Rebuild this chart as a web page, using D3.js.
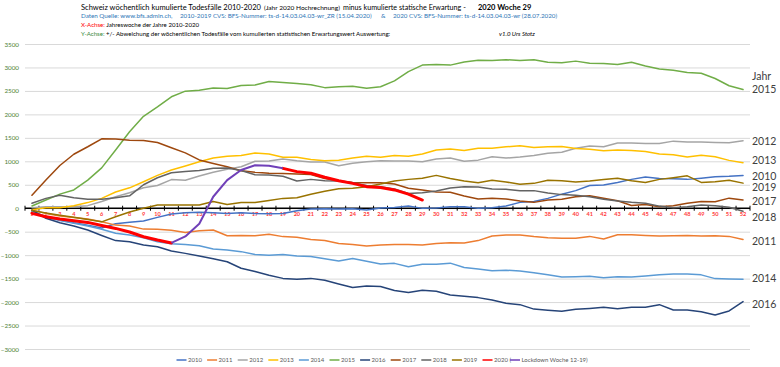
<!DOCTYPE html>
<html><head><meta charset="utf-8">
<script src="https://cdn.jsdelivr.net/npm/d3@7"></script>
<style>
body{margin:0;background:#fff;}
svg{display:block;font-family:Lato,"Open Sans",sans-serif;}
</style></head><body>
<svg id="chart" width="780" height="367"></svg>
<script>
// ---------- DATA ----------
const weeks = [1,2,3,4,5,6,7,8,9,10,11,12,13,14,15,16,17,18,19,20,21,22,23,24,25,26,27,28,29,30,31,32,33,34,35,36,37,38,39,40,41,42,43,44,45,46,47,48,49,50,51,52];
const yTicks = [-3000,-2500,-2000,-1500,-1000,-500,0,500,1000,1500,2000,2500,3000,3500];
const seriesNames = ["2010","2011","2012","2013","2014","2015","2016","2017","2018","2019","2020"];

const s2010 = [-60,-180,-250,-310,-360,-420,-330,-300,-270,-195,-125,-95,-85,-95,-110,-95,-110,-115,-110,-52,-17,-10,-17,-10,-38,4,18,47,-3,4,33,33,-3,11,47,125,145,210,300,375,485,495,550,615,665,635,630,615,640,670,680,700];
const s2011 = [-40,-110,-165,-200,-230,-290,-360,-380,-445,-450,-470,-515,-480,-465,-585,-580,-585,-555,-605,-620,-665,-690,-750,-775,-805,-785,-775,-775,-785,-750,-735,-740,-690,-590,-570,-570,-605,-630,-640,-640,-600,-655,-565,-565,-580,-590,-585,-580,-590,-585,-600,-665];
const s2012 = [10,30,30,30,55,145,245,330,435,485,610,595,685,765,830,885,1000,1005,1050,1010,985,985,905,960,990,1010,1005,1005,990,1050,1070,1000,1025,1095,1070,1090,1125,1170,1195,1280,1325,1310,1390,1390,1380,1380,1430,1410,1410,1400,1395,1440];
const s2013 = [-30,10,10,55,120,210,345,435,565,700,815,900,990,1070,1110,1125,1175,1155,1085,1085,1040,1010,1025,1070,1110,1085,1125,1110,1155,1240,1260,1230,1280,1280,1310,1330,1295,1310,1315,1275,1255,1225,1240,1230,1210,1155,1140,1090,1130,1095,1020,970];
const s2014 = [-60,-190,-260,-320,-380,-450,-535,-570,-630,-715,-755,-775,-800,-870,-890,-925,-985,-1000,-985,-1020,-1030,-1075,-1125,-1070,-1130,-1190,-1175,-1245,-1195,-1195,-1170,-1265,-1295,-1330,-1320,-1340,-1375,-1420,-1465,-1460,-1450,-1480,-1460,-1465,-1445,-1420,-1400,-1400,-1420,-1500,-1510,-1515];
const s2015 = [47,175,300,390,600,860,1240,1630,1960,2160,2375,2495,2515,2560,2550,2615,2625,2700,2680,2660,2630,2570,2590,2600,2555,2590,2715,2910,3050,3065,3050,3115,3155,3150,3165,3150,3165,3110,3100,3135,3090,3085,3065,3110,3030,2965,2940,2895,2875,2765,2610,2530];
const s2016 = [-40,-215,-310,-380,-465,-580,-690,-713,-785,-820,-912,-962,-1020,-1075,-1140,-1280,-1350,-1430,-1495,-1515,-1495,-1535,-1615,-1690,-1655,-1670,-1755,-1795,-1750,-1770,-1850,-1875,-1905,-1955,-2025,-2055,-2150,-2175,-2195,-2155,-2135,-2110,-2140,-2110,-2110,-2055,-2170,-2170,-2205,-2275,-2190,-1990];
const s2017 = [275,600,910,1150,1310,1480,1475,1450,1445,1400,1290,1180,1030,955,885,800,765,745,740,730,720,635,585,550,545,545,515,425,390,345,340,260,195,215,195,155,125,175,190,245,265,215,160,60,80,30,55,105,145,140,215,175];
const s2018 = [105,210,275,225,190,190,225,265,500,650,755,785,805,850,855,805,715,708,680,580,615,585,580,545,485,460,410,315,330,365,430,460,450,410,405,375,375,325,290,275,245,190,155,125,105,45,10,30,70,55,20,-65];
const s2019 = [-50,-100,-150,-190,-240,-290,-180,-80,0,70,70,70,70,145,80,120,120,165,210,225,300,360,415,425,460,515,580,615,640,700,635,580,545,595,560,510,530,595,585,560,580,610,640,585,550,615,650,690,550,565,595,535];
const s2020 = [-110,-180,-230,-265,-302,-367,-430,-507,-607,-678,-740,null,null,null,null,null,null,null,850,780,745,660,585,530,460,440,390,300,175];
const lockdownWeeks = [11,12,13,14,15,16,17,18,19];
const lockdown = [-740,-600,-330,245,600,815,915,905,850];

// ---------- STYLE ----------
const colors = ["#4472C4","#ED7D31","#A5A5A5","#FFC000","#5B9BD5","#70AD47","#264478","#9E480E","#636363","#997300","#FF0000"];
const lockColor = "#7040B8";
const seriesData = [s2010,s2011,s2012,s2013,s2014,s2015,s2016,s2017,s2018,s2019,s2020];

const svg = d3.select("#chart");
const x = d3.scaleBand().domain(weeks).range([25,750]);
const xc = w => x(w) + x.bandwidth()/2;
const y = d3.scaleLinear().domain([-3000,3500]).range([349,44]);

// gridlines
svg.append("g").attr("transform","translate(25,0)")
  .call(d3.axisLeft(y).tickValues(yTicks).tickSize(-725).tickFormat(""))
  .call(g=>g.select(".domain").remove())
  .call(g=>g.selectAll("line").attr("stroke","#D9D9D9").attr("stroke-width",1));

// y labels
svg.append("g").attr("transform","translate(19,0)")
  .call(d3.axisLeft(y).tickValues(yTicks).tickSize(0).tickPadding(0).tickFormat(d3.format("d")))
  .call(g=>g.select(".domain").remove())
  .attr("font-family","Lato").attr("font-size",6.3)
  .call(g=>g.selectAll("text").attr("fill","#4E7F35"));

// x axis at zero
const y0 = y(0);
const xAxisG = svg.append("g").attr("transform",`translate(0,${y0})`);
xAxisG.call(d3.axisBottom(x).tickSize(0).tickPadding(4))
  .attr("font-family","Lato").attr("font-size",5.6).attr("font-weight",700)
  .call(g=>g.select(".domain").remove())
  .call(g=>g.selectAll("text").attr("fill","#FF3B3B"));
xAxisG.append("line").attr("x1",25).attr("x2",750).attr("stroke","#000").attr("stroke-width",1.3);
const bounds = weeks.map(w=>x(w)).concat([x(weeks[weeks.length-1])+x.bandwidth()]);
xAxisG.selectAll("line.tk").data(bounds).join("line").attr("class","tk")
  .attr("x1",d=>d).attr("x2",d=>d).attr("y1",-2.5).attr("y2",2.5)
  .attr("stroke","#000").attr("stroke-width",1);

// series lines
const line = d3.line().defined(d=>d!=null).x((d,i)=>xc(weeks[i])).y(d=>y(d));
seriesData.forEach((s,i)=>{
  svg.append("path").attr("d",line(s)).attr("fill","none")
    .attr("stroke",colors[i]).attr("stroke-width", i===10?3:1.5)
    .attr("stroke-linejoin","round").attr("stroke-linecap","round");
});
const lineL = d3.line().x((d,i)=>xc(lockdownWeeks[i])).y(d=>y(d));
svg.append("path").attr("d",lineL(lockdown)).attr("fill","none")
  .attr("stroke",lockColor).attr("stroke-width",2).attr("stroke-linejoin","round");

// right-hand labels
const nudge = {"2010":1,"2011":2,"2012":1,"2013":-2,"2014":-1,"2015":0,"2016":3,"2017":1,"2018":6,"2019":4};
const lab = svg.append("g").attr("font-family","Lato").attr("font-size",10.5).attr("fill","#404040");
seriesNames.slice(0,10).forEach((n,i)=>{
  const s = seriesData[i];
  lab.append("text").attr("x",752).attr("y",y(s[s.length-1])+nudge[n]).attr("dy","0.35em").text(n);
});
lab.append("text").attr("x",752).attr("y",y(s2015[s2015.length-1])-13).attr("dy","0.35em").text("Jahr");

// header
const hdr = svg.append("g").attr("font-family","Lato");
// parts: [text, fill, weight, style]
function fitLine(parts,x0,x1,yb){
  const t = hdr.append("text").attr("x",x0).attr("y",yb).attr("font-size",10);
  parts.forEach(p=>t.append("tspan").attr("fill",p[1]).attr("font-weight",p[2]||400)
    .attr("font-style",p[3]||"normal").text(p[0]));
  const size = 10*(x1-x0)/t.node().getComputedTextLength();
  t.attr("font-size", size);
  return size;
}
function fixedLine(parts,x0,yb,size){
  const t = hdr.append("text").attr("x",x0).attr("y",yb).attr("font-size",size);
  parts.forEach(p=>t.append("tspan").attr("fill",p[1]).attr("font-weight",p[2]||400)
    .attr("font-style",p[3]||"normal").text(p[0]));
}
const tSize = fitLine([["Schweiz wöchentlich kumulierte Todesfälle 2010-2020","#000"]],81,261,9.5);
fitLine([["(Jahr 2020 Hochrechnung)","#000"]],264,340,9.5);
fitLine([["minus kumulierte statische Erwartung -","#000"]],343,466,9.5);
fixedLine([["2020  Woche  29","#000",700]],478,9.5,tSize);
const bSize = fitLine([["2010-2019 CVS: BFS-Nummer: ts-d-14.03.04.03-wr_ZR (15.04.2020)","#2E75B6"]],180,372,18);
fixedLine([["Daten Quelle: www.bfs.admin.ch,","#2E75B6"]],81,18,bSize);
fixedLine([["&","#2E75B6"]],381,18,bSize);
fixedLine([["2020 CVS: BFS-Nummer: ts-d-14.03.04.03-wr (28.07.2020)","#2E75B6"]],393,18,bSize);
const ySize = fitLine([["Y-Achse:","#3A8A3A"],[" +/- Abweichung der wöchentlichen Todesfälle vom kumulierten statistischen Erwartungswert Auswertung:","#000"]],81,391,35.5);
fixedLine([["X-Achse:","#FF0000"],[" Jahreswoche der Jahre 2010-2020","#000"]],81,26.8,ySize);
fixedLine([["v1.0 Urs Stotz","#000",400,"italic"]],499,35.5,ySize);

// legend
const leg = svg.append("g").attr("font-family","Lato").attr("font-size",6).attr("fill","#595959");
const ly = 360;
seriesNames.forEach((n,i)=>{
  const lx = 176.5 + i*30.6;
  leg.append("line").attr("x1",lx).attr("x2",lx+10).attr("y1",ly).attr("y2",ly)
    .attr("stroke",colors[i]).attr("stroke-width",2).attr("stroke-opacity",0.75);
  leg.append("text").attr("x",lx+11.5).attr("y",ly).attr("dy","0.35em").text(n==="2020"?"2020 (":n);
});
const lx2 = 510;
leg.append("line").attr("x1",lx2).attr("x2",lx2+10).attr("y1",ly).attr("y2",ly)
  .attr("stroke",lockColor).attr("stroke-width",2).attr("stroke-opacity",0.75);
leg.append("text").attr("x",lx2+11.5).attr("y",ly).attr("dy","0.35em").text("Lockdown Woche 12-19)");
</script>
</body></html>
